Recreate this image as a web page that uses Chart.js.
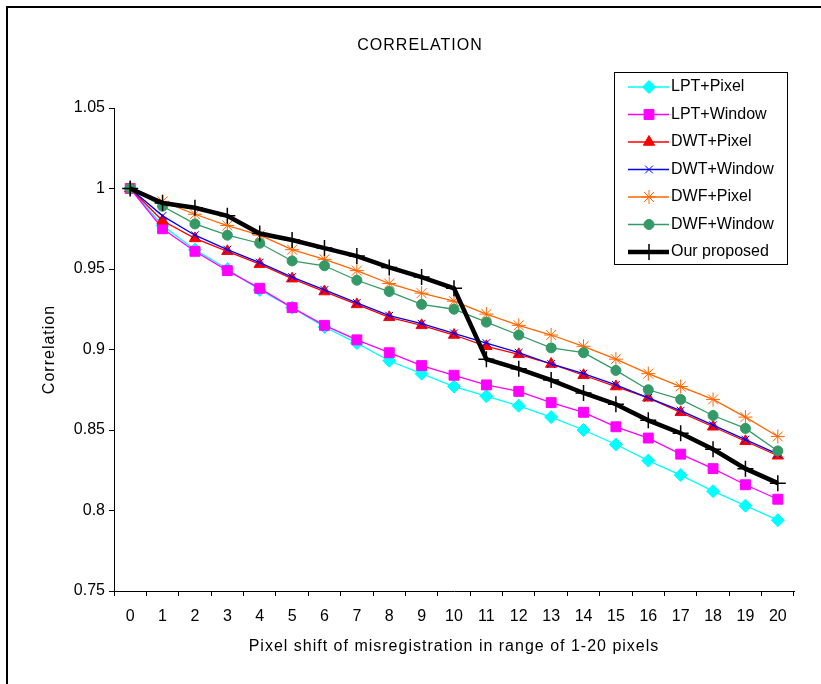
<!DOCTYPE html>
<html>
<head>
<meta charset="utf-8">
<title>Correlation</title>
<script src="https://cdn.jsdelivr.net/npm/chart.js@4.4.0/dist/chart.umd.min.js"></script>
<style>
    html, body { margin: 0; padding: 0; background: #fff; }
    #wrap { width: 821px; height: 684px; }
</style>
</head>
<body>
<div id="wrap"><canvas id="corr-chart" width="821" height="684"></canvas></div>
<script>
// pixel shift (categories)
const shifts = ['0', '1', '2', '3', '4', '5', '6', '7', '8', '9', '10',
    '11', '12', '13', '14', '15', '16', '17', '18', '19', '20'];

const yTicks = [0.75, 0.8, 0.85, 0.9, 0.95, 1, 1.05];

const lptPixel = [1.000, 0.977, 0.962, 0.950, 0.937, 0.926, 0.914, 0.904, 0.893, 0.885, 0.877,
    0.871, 0.865, 0.858, 0.850, 0.841, 0.831, 0.822, 0.812, 0.803, 0.794];
const lptWindow = [1.000, 0.975, 0.961, 0.949, 0.938, 0.926, 0.915, 0.906, 0.898, 0.890, 0.884,
    0.878, 0.874, 0.867, 0.861, 0.852, 0.845, 0.835, 0.826, 0.816, 0.807];
const dwtPixel = [1.000, 0.980, 0.969, 0.961, 0.953, 0.944, 0.936, 0.928, 0.920, 0.915, 0.909,
    0.902, 0.897, 0.891, 0.884, 0.877, 0.870, 0.861, 0.852, 0.843, 0.834];
const dwtWindow = [1.000, 0.983, 0.971, 0.962, 0.954, 0.945, 0.937, 0.929, 0.921, 0.916, 0.910,
    0.904, 0.898, 0.891, 0.885, 0.878, 0.870, 0.862, 0.853, 0.844, 0.835];
const dwfPixel = [1.000, 0.992, 0.984, 0.977, 0.971, 0.962, 0.956, 0.949, 0.941, 0.935, 0.930,
    0.922, 0.915, 0.909, 0.902, 0.894, 0.885, 0.877, 0.869, 0.858, 0.846];
const dwfWindow = [1.000, 0.989, 0.978, 0.971, 0.966, 0.955, 0.952, 0.943, 0.936, 0.928, 0.925,
    0.917, 0.909, 0.901, 0.898, 0.887, 0.875, 0.869, 0.859, 0.851, 0.837];
const ourProposed = [1.000, 0.991, 0.988, 0.983, 0.972, 0.968, 0.963, 0.958, 0.951, 0.945, 0.938,
    0.894, 0.888, 0.881, 0.873, 0.866, 0.856, 0.848, 0.838, 0.826, 0.817];

const seriesNames = ['LPT+Pixel', 'LPT+Window', 'DWT+Pixel', 'DWT+Window', 'DWF+Pixel', 'DWF+Window', 'Our proposed'];
const seriesValues = [lptPixel, lptWindow, dwtPixel, dwtWindow, dwfPixel, dwfWindow, ourProposed];

// look of each series
const seriesColors = ['#00FFFF', '#FF00FF', '#FF0000', '#0000FF', '#FF6600', '#339966', '#000000'];
const markerStyles = ['rectRot', 'rect', 'triangle', 'crossRot', 'star', 'circle', 'cross'];
const markerSizes = [6.5, 7, 6.5, 5.5, 7, 5, 8];
const lineWidths = [1.3, 1.3, 1.3, 1.3, 1.3, 1.3, 4.5];

const FONT = "'Liberation Sans', Arial, sans-serif";

function buildDatasets() {
    return seriesNames.map((name, i) => ({
        label: name,
        data: seriesValues[i],
        borderColor: seriesColors[i],
        backgroundColor: seriesColors[i],
        borderWidth: lineWidths[i],
        pointStyle: markerStyles[i],
        pointRadius: markerSizes[i],
        pointHoverRadius: markerSizes[i],
        pointBorderColor: seriesColors[i],
        pointBackgroundColor: seriesColors[i],
        pointBorderWidth: i === 6 ? 1.5 : 1,
        tension: 0,
        order: seriesNames.length - i   // later series on top
    }));
}

// outer frame + text titles
const frameAndTitles = {
    id: 'frameAndTitles',
    beforeDraw(chart) {
        const ctx = chart.ctx;
        ctx.save();
        ctx.fillStyle = '#fff';
        ctx.fillRect(0, 0, chart.width, chart.height);
        ctx.strokeStyle = '#000';
        ctx.lineWidth = 2;
        ctx.strokeRect(7, 7, chart.width + 20, chart.height + 20);
        ctx.restore();
    },
    afterDraw(chart) {
        const ctx = chart.ctx;
        const area = chart.chartArea;
        ctx.save();
        ctx.fillStyle = '#000';
        ctx.font = '16px ' + FONT;
        ctx.letterSpacing = '1px';
        ctx.textAlign = 'center';
        ctx.textBaseline = 'middle';
        ctx.fillText('CORRELATION', 420, 46);
        ctx.fillText('Pixel shift of misregistration in range of 1-20 pixels', (area.left + area.right) / 2, 647);
        ctx.translate(50, (area.top + area.bottom) / 2);
        ctx.rotate(-Math.PI / 2);
        ctx.fillText('Correlation', 0, 0);
        ctx.restore();
    }
};

// boxed legend, drawn from the dataset styles
const boxedLegend = {
    id: 'boxedLegend',
    afterDraw(chart) {
        const ctx = chart.ctx;
        const box = { left: 614, top: 72, width: 173, height: 192 };
        ctx.save();
        ctx.fillStyle = '#fff';
        ctx.fillRect(box.left, box.top, box.width, box.height);
        ctx.strokeStyle = '#000';
        ctx.lineWidth = 1;
        ctx.strokeRect(box.left + 0.5, box.top + 0.5, box.width, box.height);

        chart.data.datasets.forEach((ds, i) => {
            const y = 87 + i * 27.5;
            ctx.strokeStyle = ds.borderColor;
            ctx.lineWidth = ds.borderWidth;
            ctx.beginPath();
            ctx.moveTo(628, y);
            ctx.lineTo(669, y);
            ctx.stroke();

            ctx.fillStyle = ds.pointBackgroundColor;
            ctx.strokeStyle = ds.pointBorderColor;
            ctx.lineWidth = ds.pointBorderWidth;
            Chart.helpers.drawPoint(ctx, {
                pointStyle: ds.pointStyle,
                radius: ds.pointRadius,
                rotation: 0,
                borderWidth: ds.pointBorderWidth
            }, 649, y);

            ctx.fillStyle = '#000';
            ctx.font = '16px ' + FONT;
            ctx.textAlign = 'left';
            ctx.textBaseline = 'middle';
            ctx.fillText(ds.label, 671, y);
        });
        ctx.restore();
    }
};

function createCorrelationChart() {
    const ctx = document.getElementById('corr-chart').getContext('2d');
    new Chart(ctx, {
        type: 'line',
        data: {
            labels: shifts,
            datasets: buildDatasets()
        },
        options: {
            responsive: false,
            animation: false,
            devicePixelRatio: 1,
            layout: {
                padding: { left: 36, top: 108, right: 27, bottom: 20 }
            },
            scales: {
                x: {
                    type: 'category',
                    offset: true,
                    afterFit: scale => { scale.height = 73; },
                    grid: {
                        offset: true,
                        drawOnChartArea: false,
                        drawTicks: true,
                        tickLength: 5,
                        color: '#000'
                    },
                    border: { display: true, color: '#000', width: 1 },
                    ticks: {
                        color: '#000',
                        font: { family: FONT, size: 16 },
                        padding: 11,
                        maxRotation: 0,
                        autoSkip: false
                    }
                },
                y: {
                    min: 0.75,
                    max: 1.05,
                    afterFit: scale => { scale.width = 78; },
                    afterBuildTicks: scale => {
                        scale.ticks = yTicks.map(v => ({ value: v }));
                    },
                    grid: {
                        drawOnChartArea: false,
                        drawTicks: true,
                        tickLength: 5,
                        color: '#000'
                    },
                    border: { display: true, color: '#000', width: 1 },
                    ticks: {
                        color: '#000',
                        font: { family: FONT, size: 16 },
                        padding: 4,
                        callback: value => String(+value.toFixed(2))
                    }
                }
            },
            plugins: {
                legend: { display: false },
                title: { display: false },
                tooltip: { enabled: false }
            }
        },
        plugins: [frameAndTitles, boxedLegend]
    });
}

createCorrelationChart();
</script>
</body>
</html>
